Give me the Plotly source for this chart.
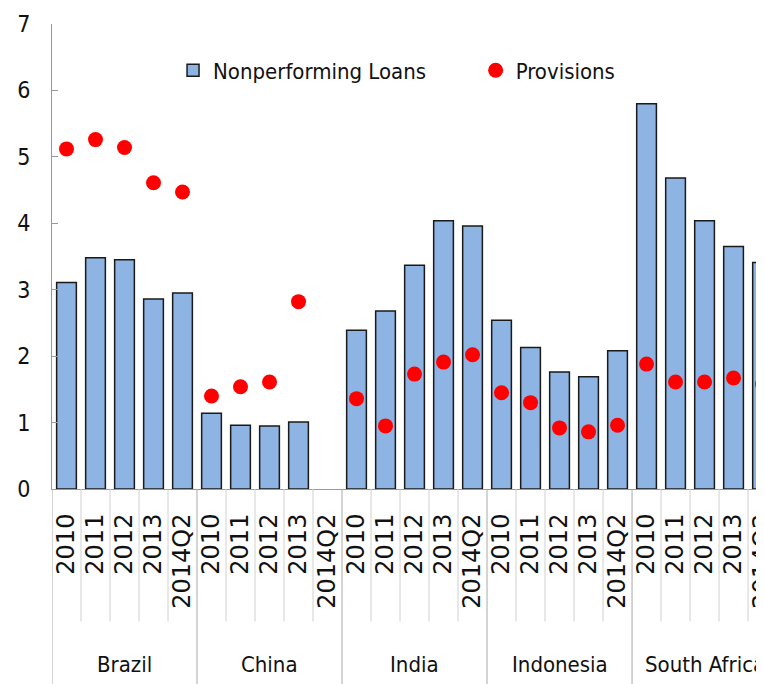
import plotly.graph_objects as go

countries = ["Brazil", "China", "India", "Indonesia", "South Africa"]
periods = ["2010", "2011", "2012", "2013", "2014Q2"]

npl = {
    "Brazil": [3.11, 3.48, 3.45, 2.86, 2.95],
    "China": [1.14, 0.96, 0.95, 1.01, None],
    "India": [2.39, 2.68, 3.37, 4.04, 3.96],
    "Indonesia": [2.54, 2.13, 1.76, 1.69, 2.08],
    "South Africa": [5.80, 4.68, 4.04, 3.65, 3.41],
}
provisions = {
    "Brazil": [5.12, 5.26, 5.14, 4.61, 4.47],
    "China": [1.40, 1.54, 1.61, 2.82, None],
    "India": [1.36, 0.95, 1.73, 1.91, 2.02],
    "Indonesia": [1.45, 1.30, 0.92, 0.86, 0.96],
    "South Africa": [1.88, 1.61, 1.61, 1.67, 1.58],
}

# one category per country/period, labelled with the period only
keys = [f"{c} {p}" for c in countries for p in periods]
labels = [p for _ in countries for p in periods]
npl_vals = [v for c in countries for v in npl[c]]
prov_vals = [v for c in countries for v in provisions[c]]

narrow = "DejaVu Sans Condensed, Liberation Sans Narrow, Roboto, sans-serif"

fig = go.Figure()
fig.add_trace(go.Bar(
    x=keys, y=npl_vals, name="Nonperforming Loans",
    marker=dict(color="#8EB4E3", line=dict(color="#1a1a1a", width=1.5)),
    width=0.68, legend="legend",
))
fig.add_trace(go.Scatter(
    x=keys, y=prov_vals, name="Provisions", mode="markers",
    marker=dict(color="#FF0000", size=15), legend="legend2",
))

# separators under the axis: short ones between periods, long ones between countries
n_per = len(periods)
for k in range(len(keys) + 1):
    group_edge = k % n_per == 0
    fig.add_shape(
        type="line", xref="x", yref="paper",
        x0=k - 0.5, x1=k - 0.5, y0=0, y1=-0.44 if group_edge else -0.285,
        line=dict(color="#aaaaaa" if group_edge else "#d0d0d0", width=1),
    )

# country names centred under their group
for i, c in enumerate(countries):
    fig.add_annotation(
        x=i * n_per + (n_per - 1) / 2, xref="x", y=-0.378, yref="paper",
        text=c, showarrow=False, yanchor="middle",
        font=dict(family=narrow, size=22, color="#111"),
    )

legend_style = dict(
    orientation="h", y=0.90, yanchor="middle", xanchor="left",
    font=dict(size=22, family=narrow), bgcolor="rgba(0,0,0,0)", itemwidth=30,
)

fig.update_layout(
    width=756, height=676,
    margin=dict(l=44, r=0, t=16, b=195),
    plot_bgcolor="white", paper_bgcolor="white",
    font=dict(family=narrow, color="#111"),
    showlegend=True,
    legend=dict(x=0.17, **legend_style),
    legend2=dict(x=0.595, **legend_style),
)
fig.update_yaxes(
    range=[0, 7], dtick=1, showgrid=False, zeroline=False,
    showline=True, linecolor="#999", linewidth=1,
    ticks="inside", ticklen=6, tickcolor="#999",
    tickfont=dict(size=23), ticklabelstandoff=16, automargin=False,
)
fig.update_xaxes(
    type="category", range=[-0.5, 24.05],
    tickvals=keys, ticktext=labels,
    showline=True, linecolor="#999", linewidth=1,
    showgrid=False, tickangle=-90, automargin=False, ticks="",
    ticklabelstandoff=14,
    tickfont=dict(family="DejaVu Sans, Verdana, sans-serif", size=24),
)

fig.write_html("out.html")
